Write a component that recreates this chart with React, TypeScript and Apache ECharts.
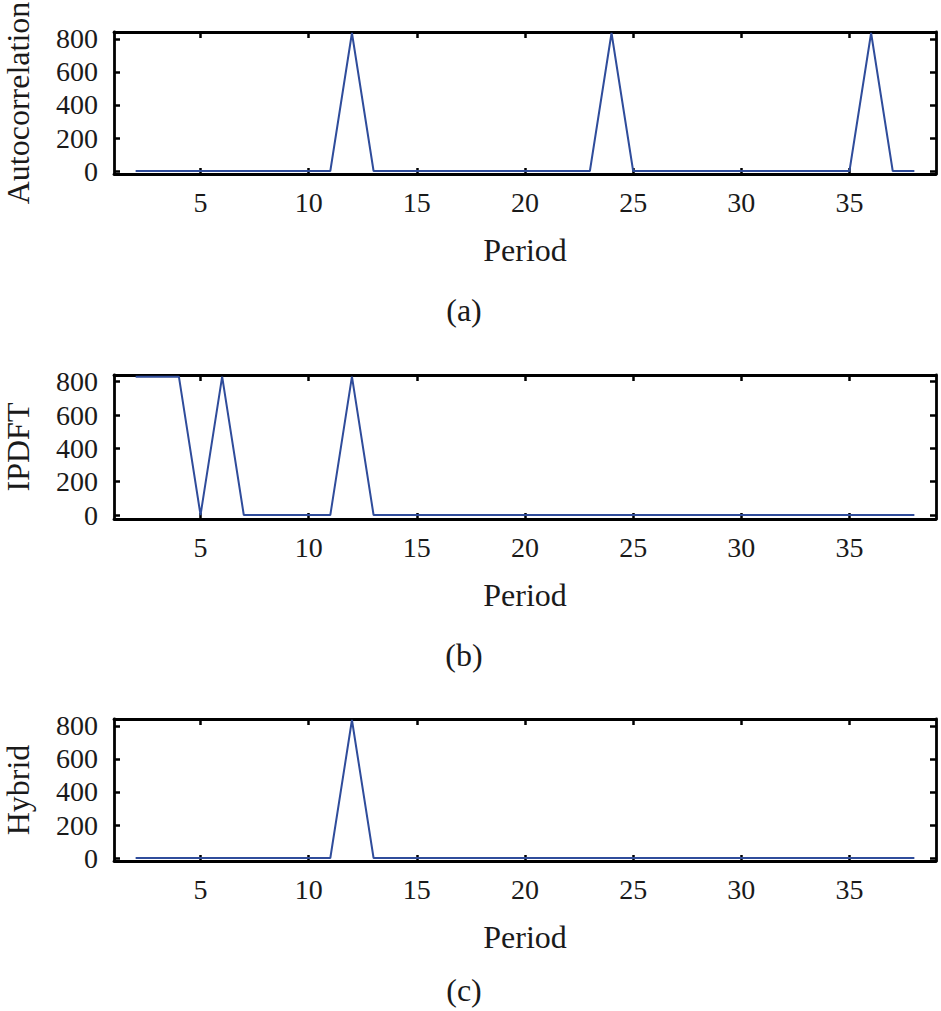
import React, { useEffect, useRef } from "react";
import * as echarts from "echarts";

const periods: number[] = [];
for (let p = 2; p <= 38; p++) periods.push(p);

// Autocorrelation: peaks at 12, 24, 36
const autocorrelation = [
  0, 0, 0, 0, 0, 0, 0, 0, 0, 0, 836, 0, 0, 0, 0, 0, 0, 0, 0, 0, 0, 0, 836, 0, 0, 0, 0, 0, 0, 0, 0, 0, 0, 0, 836, 0, 0,
];
// IPDFT
const ipdft = [
  830, 830, 830, 0, 830, 0, 0, 0, 0, 0, 830, 0, 0, 0, 0, 0, 0, 0, 0, 0, 0, 0, 0, 0, 0, 0, 0, 0, 0, 0, 0, 0, 0, 0, 0, 0, 0,
];
// Hybrid
const hybrid = [
  0, 0, 0, 0, 0, 0, 0, 0, 0, 0, 836, 0, 0, 0, 0, 0, 0, 0, 0, 0, 0, 0, 0, 0, 0, 0, 0, 0, 0, 0, 0, 0, 0, 0, 0, 0, 0,
];

const xTicks = [5, 10, 15, 20, 25, 30, 35];
const yTicks = [0, 200, 400, 600, 800];
const panelNames = ["Autocorrelation", "IPDFT", "Hybrid"];
const captions = ["(a)", "(b)", "(c)"];
const panelData = [autocorrelation, ipdft, hybrid];
const yRanges = [
  [-18, 842],
  [-24, 840],
  [-18, 842],
];

const FONT = "Liberation Serif";
const LINE_COLOR = "#2f4c9b";
const TEXT_COLOR = "#1a1a1a";

export default function App() {
  const ref = useRef<HTMLDivElement>(null);
  useEffect(() => {
    if (!ref.current) return;
    const chart = echarts.init(ref.current, undefined, { renderer: "svg" });
    const tops = [32, 375, 719];
    const heights = [142, 144, 142];
    const grids: any[] = [];
    const xAxes: any[] = [];
    const yAxes: any[] = [];
    const series: any[] = [];
    const graphics: any[] = [];
    const axisLine = { show: true, onZero: false, lineStyle: { color: "#000", width: 2.8 } };
    const tickStyle = { lineStyle: { color: "#000", width: 2.5 } };
    tops.forEach((top, i) => {
      grids.push({
        left: 114,
        width: 822,
        top,
        height: heights[i],
        containLabel: false,
        outerBoundsMode: "none",
      });
      const xBase = {
        type: "value",
        gridIndex: i,
        min: 1,
        max: 39,
        splitLine: { show: false },
        axisLine,
      };
      xAxes.push({
        ...xBase,
        position: "bottom",
        name: "Period",
        nameLocation: "middle",
        nameGap: 60,
        nameTextStyle: { fontFamily: FONT, fontSize: 32, color: TEXT_COLOR },
        axisTick: { show: true, inside: true, length: 6, customValues: xTicks, ...tickStyle },
        axisLabel: { show: true, customValues: xTicks, margin: 14, fontFamily: FONT, fontSize: 28, color: TEXT_COLOR },
      });
      xAxes.push({
        ...xBase,
        position: "top",
        axisTick: { show: true, inside: true, length: 6, customValues: xTicks, ...tickStyle },
        axisLabel: { show: false },
      });
      const yBase = {
        type: "value",
        gridIndex: i,
        min: yRanges[i][0],
        max: yRanges[i][1],
        splitLine: { show: false },
        axisLine,
      };
      yAxes.push({
        ...yBase,
        position: "left",
        name: panelNames[i],
        nameLocation: "middle",
        nameGap: 80,
        nameRotate: 90,
        nameTextStyle: { fontFamily: FONT, fontSize: 32, color: TEXT_COLOR },
        axisTick: { show: true, inside: true, length: 6, customValues: yTicks, ...tickStyle },
        axisLabel: { show: true, customValues: yTicks, margin: 16, fontFamily: FONT, fontSize: 28, color: TEXT_COLOR },
      });
      yAxes.push({
        ...yBase,
        position: "right",
        axisTick: { show: true, inside: true, length: 6, customValues: yTicks, ...tickStyle },
        axisLabel: { show: false },
      });
      series.push({
        type: "line",
        xAxisIndex: i * 2,
        yAxisIndex: i * 2,
        data: periods.map((p, k) => [p, panelData[i][k]]),
        showSymbol: false,
        symbol: "none",
        lineStyle: { color: LINE_COLOR, width: 2 },
        z: 1,
      });
    });
    const capY = [310, 655, 990];
    capY.forEach((y, i) => {
      graphics.push({
        type: "text",
        x: 464,
        y,
        style: {
          text: captions[i],
          fontFamily: FONT,
          fontSize: 32,
          fill: TEXT_COLOR,
          align: "center",
          verticalAlign: "middle",
        },
      });
    });
    chart.setOption({
      animation: false,
      backgroundColor: "#fff",
      grid: grids,
      xAxis: xAxes,
      yAxis: yAxes,
      series,
      graphic: graphics,
    });
    return () => chart.dispose();
  }, []);
  return (
    <div
      ref={ref}
      style={{ position: "fixed", left: 0, top: 0, width: 941, height: 1011, background: "#fff" }}
    />
  );
}
